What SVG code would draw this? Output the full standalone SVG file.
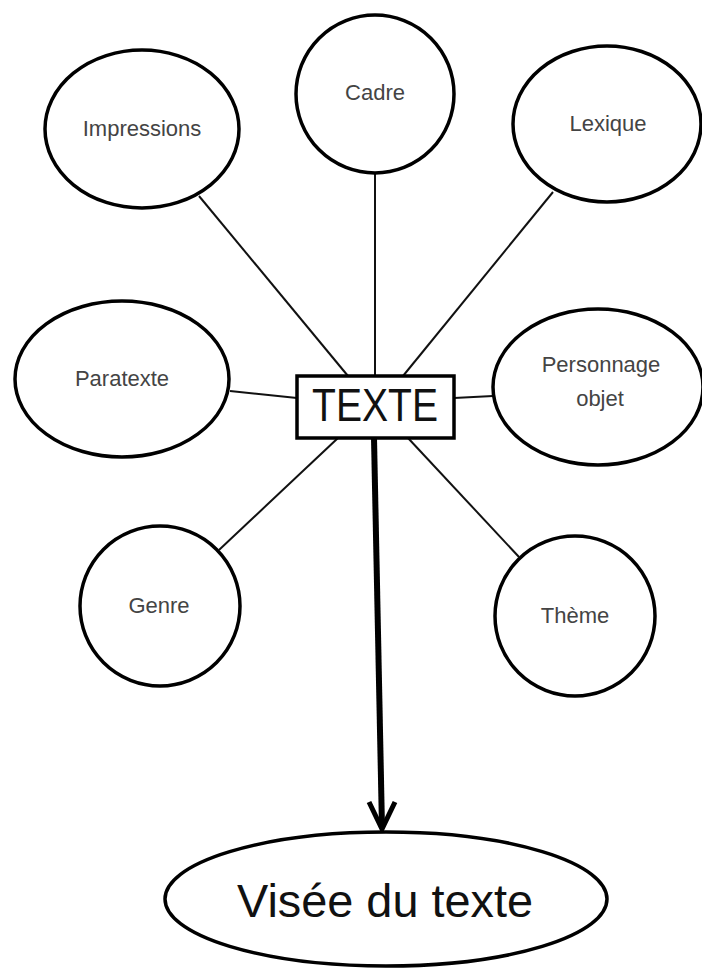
<svg xmlns="http://www.w3.org/2000/svg" width="702" height="969" viewBox="0 0 702 969">
<style>
.n{fill:#fff;stroke:#000;stroke-width:3.5}
.l{font-family:"Liberation Sans",Arial,sans-serif;font-size:22px;fill:#444;text-anchor:middle}
.big{font-family:"Liberation Sans",Arial,sans-serif;font-size:46px;fill:#111;text-anchor:middle}
.c{stroke:#111;stroke-width:2;fill:none}
</style>
<rect width="702" height="969" fill="#fff"/>
<g id="connectors">
<line class="c" x1="199" y1="196" x2="348" y2="376"/>
<line class="c" x1="375" y1="172" x2="375" y2="376"/>
<line class="c" x1="553" y1="192" x2="403" y2="376"/>
<line class="c" x1="230" y1="391" x2="297" y2="398"/>
<line class="c" x1="454" y1="398" x2="493" y2="396"/>
<line class="c" x1="338" y1="438" x2="219" y2="550"/>
<line class="c" x1="408" y1="438" x2="519" y2="557"/>
<line x1="374" y1="438" x2="382" y2="828" stroke="#000" stroke-width="6"/>
<polyline points="369,802 382,829 395,802" fill="none" stroke="#000" stroke-width="5" stroke-linejoin="miter"/>
</g>
<g id="impressions"><ellipse class="n" cx="142" cy="129" rx="97" ry="79"/><text class="l" x="142" y="136">Impressions</text></g>
<g id="cadre"><ellipse class="n" cx="375" cy="94" rx="79" ry="79"/><text class="l" x="375" y="100">Cadre</text></g>
<g id="lexique"><ellipse class="n" cx="607" cy="124" rx="94" ry="78"/><text class="l" x="608" y="131">Lexique</text></g>
<g id="paratexte"><ellipse class="n" cx="122" cy="379" rx="107" ry="78"/><text class="l" x="122" y="386">Paratexte</text></g>
<g id="personnage"><ellipse class="n" cx="598" cy="387" rx="105" ry="78"/><text class="l" x="601" y="372">Personnage</text><text class="l" x="600" y="406">objet</text></g>
<g id="genre"><ellipse class="n" cx="160" cy="606" rx="80" ry="80"/><text class="l" x="159" y="613">Genre</text></g>
<g id="theme"><ellipse class="n" cx="575" cy="616" rx="80" ry="80"/><text class="l" x="575" y="623">Thème</text></g>
<g id="texte"><rect x="297" y="376" width="157" height="62" fill="#fff" stroke="#000" stroke-width="3.5"/><text class="big" x="375" y="421" textLength="126" lengthAdjust="spacingAndGlyphs">TEXTE</text></g>
<g id="visee"><ellipse class="n" cx="386" cy="899" rx="221" ry="67"/><text class="big" x="385" y="917" textLength="296" lengthAdjust="spacingAndGlyphs">Visée du texte</text></g>
</svg>
